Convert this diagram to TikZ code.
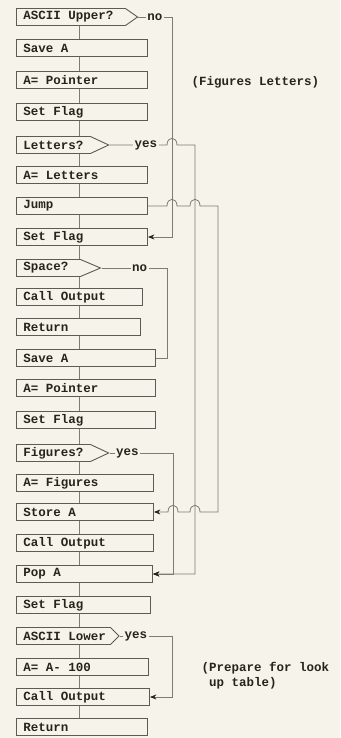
\documentclass[tikz,border=0pt]{standalone}
\usepackage{fontspec}
\setmonofont{Liberation Mono}
\usetikzlibrary{positioning, calc, arrows.meta, shapes.symbols}

\definecolor{paper}{RGB}{246,244,234}
\definecolor{wire}{RGB}{128,123,106}
\definecolor{ink}{RGB}{40,35,27}

\begin{document}
\begin{tikzpicture}[
    x=1pt, y=-1pt,
    typed/.style={text=ink, font=\ttfamily\bfseries\fontsize{12.5}{15}\selectfont,
                  execute at begin node={\spaceskip=\fontdimen2\font
                                         \xspaceskip=\fontdimen2\font}},
    block/.style={typed, draw=ink!75, line width=0.9pt, rectangle, anchor=west,
                  minimum height=17pt, inner xsep=7pt, inner ysep=0pt,
                  text width=#1, align=left},
    block/.default=117pt,
    ask/.style={block=#1, shape=signal, signal to=east},
    lbl/.style={typed, fill=paper, inner sep=1.5pt},
    note/.style={typed, anchor=west, align=left},
    wire/.style={draw=wire, line width=0.8pt},
    hop/.style={to path={.. controls +(0,-9) and +(0,-9) .. (\tikztotarget)}},
    >={Stealth[length=6.5pt, width=5pt, color=ink]},
]

% =================================================================
%  PAPER
% =================================================================
\fill[paper] (0,0) rectangle (340,738);
\useasboundingbox (0,0) rectangle (340,738);

% =================================================================
%  MAIN COLUMN
% =================================================================
\node[ask=95pt, signal pointer angle=70] (upper)   at (16,17)  {ASCII Upper?};
\node[block]                             (saveA)   at (16,48)  {Save A};
\node[block]                             (ptrA)    at (16,80)  {A= Pointer};
\node[block]                             (flagA)   at (16,112) {Set Flag};
\node[ask=60pt, signal pointer angle=50] (letters) at (16,145) {Letters?};
\node[block]                             (setlet)  at (16,175) {A= Letters};
\node[block]                             (jump)    at (16,206) {Jump};
\node[block]                             (flagB)   at (16,237) {Set Flag};
\node[ask=50pt, signal pointer angle=46] (space)   at (16,268) {Space?};
\node[block=112pt]                       (outA)    at (16,297) {Call Output};
\node[block=110pt]                       (retA)    at (16,327) {Return};
\node[block=125pt]                       (saveB)   at (16,358) {Save A};
\node[block=125pt]                       (ptrB)    at (16,388) {A= Pointer};
\node[block=125pt]                       (flagC)   at (16,420) {Set Flag};
\node[ask=60pt, signal pointer angle=50] (figures) at (16,453) {Figures?};
\node[block=123pt]                       (setfig)  at (16,483) {A= Figures};
\node[block=123pt]                       (storeA)  at (16,512) {Store A};
\node[block=123pt]                       (outB)    at (16,543) {Call Output};
\node[block=122pt]                       (popA)    at (16,574) {Pop A};
\node[block=120pt]                       (flagD)   at (16,605) {Set Flag};
\node[ask=80pt, signal pointer angle=90] (lower)   at (16,636) {\mbox{ASCII Lower}};
\node[block=118pt]                       (subA)    at (16,667) {A= A- 100};
\node[block=119pt]                       (outC)    at (16,697) {Call Output};
\node[block=117pt]                       (retB)    at (16,727) {Return};

\coordinate (spine) at (79,0);
\foreach \a/\b in {upper/saveA, saveA/ptrA, ptrA/flagA, flagA/letters,
                   letters/setlet, setlet/jump, jump/flagB, flagB/space,
                   space/outA, outA/retA, retA/saveB, saveB/ptrB, ptrB/flagC,
                   flagC/figures, figures/setfig, setfig/storeA, storeA/outB,
                   outB/popA, popA/flagD, flagD/lower, lower/subA, subA/outC,
                   outC/retB}
    \draw[wire] (\a.south -| spine) -- (\b.north -| spine);

% =================================================================
%  SIDE BRANCHES
% =================================================================
\coordinate (colS) at (167,0);
\coordinate (colA) at (172,0);
\coordinate (colF) at (173,0);
\coordinate (colB) at (195,0);
\coordinate (colC) at (218,0);

% ASCII Upper? -> no -> Set Flag
\draw[wire, ->] (upper.east) -- node[lbl, pos=0.49] {no} (upper.east -| colA)
    -- (flagB.east -| colA) -- (flagB.east);

% Letters? -> yes -> Pop A
\draw[wire, ->] (letters.east) -- node[lbl, pos=0.63] {yes}
    ([xshift=-5pt]letters.east -| colA) to[hop] ([xshift=5pt]letters.east -| colA)
    -- (letters.east -| colB) -- (popA.east -| colB) -- (popA.east);

% Jump -> Store A
\draw[wire, ->] (jump.east)
    -- ([xshift=-5pt]jump.east -| colA) to[hop] ([xshift=5pt]jump.east -| colA)
    -- ([xshift=-5pt]jump.east -| colB) to[hop] ([xshift=5pt]jump.east -| colB)
    -- (jump.east -| colC) -- (storeA.east -| colC)
    -- ([xshift=5pt]storeA.east -| colB) to[hop] ([xshift=-5pt]storeA.east -| colB)
    -- ([xshift=5pt]storeA.east -| colF) to[hop] ([xshift=-5pt]storeA.east -| colF)
    -- (storeA.east);

% Space? -> no -> Save A
\draw[wire] (space.east) -- node[lbl, pos=0.58] {no} (space.east -| colS)
    -- (saveB.east -| colS) -- (saveB.east);

% Figures? -> yes -> Pop A
\draw[wire, ->] (figures.east) -- node[lbl, pos=0.28] {yes} (figures.east -| colF)
    -- (popA.east -| colF) -- (popA.east);

% ASCII Lower -> yes -> Call Output
\draw[wire, ->] (lower.east) -- node[lbl, pos=0.31] {yes} (lower.east -| colA)
    -- (outC.east -| colA) -- (outC.east);

% =================================================================
%  NOTES
% =================================================================
\node[note] (noteFL) at (188,82)  {(Figures Letters)};
\node[note] (notePT) at (198,676) {(Prepare for look\\\hphantom{(}up table)};

\end{tikzpicture}
\end{document}
